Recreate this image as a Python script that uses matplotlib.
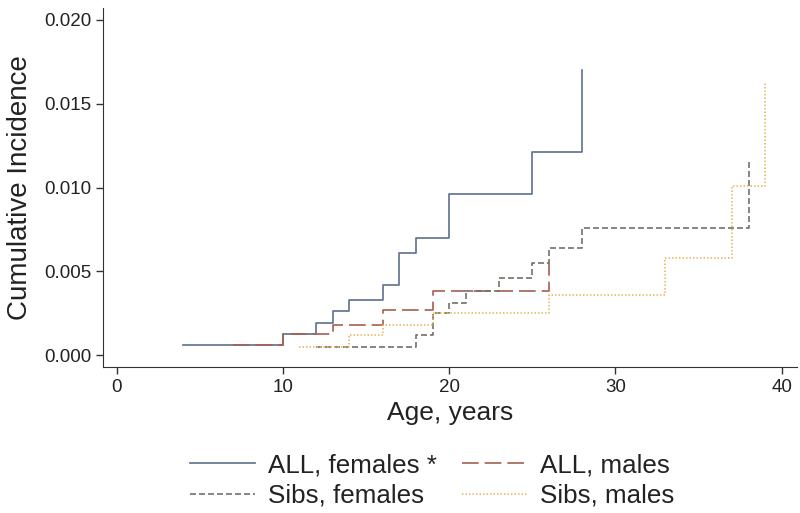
import matplotlib.pyplot as plt

plt.rcParams['font.family'] = ['Liberation Sans', 'DejaVu Sans']

# Kaplan-Meier style cumulative incidence steps (age in years)
all_f_age = [4, 10, 12, 13, 14, 16, 17, 18, 20, 25, 28]
all_f_ci = [0.0006, 0.00125, 0.0019, 0.0026, 0.0033, 0.0042, 0.0061, 0.0070, 0.0096, 0.0121, 0.0170]

all_m_age = [7, 10, 13, 16, 19, 26]
all_m_ci = [0.0006, 0.00125, 0.0018, 0.0027, 0.0038, 0.0055]

sib_f_age = [12, 18, 19, 20, 21, 23, 25, 26, 28, 38]
sib_f_ci = [0.0005, 0.0012, 0.0025, 0.0031, 0.0038, 0.0046, 0.0055, 0.0064, 0.0076, 0.0116]

sib_m_age = [11, 14, 16, 19, 26, 33, 37, 39]
sib_m_ci = [0.0005, 0.0012, 0.0018, 0.0025, 0.0036, 0.0058, 0.0101, 0.0163]

labels = ['ALL, females *', 'ALL, males', 'Sibs, females', 'Sibs, males']
x_ticks = [0, 10, 20, 30, 40]
y_ticks = [0.0, 0.005, 0.010, 0.015, 0.020]

fig = plt.figure(figsize=(8, 5.13), dpi=100)
ax = fig.add_axes([0.129, 0.285, 0.867, 0.699])

lw = 1.2
h1, = ax.step(all_f_age, all_f_ci, where='post', color='#5b6f8f', lw=lw)
h2, = ax.step(all_m_age, all_m_ci, where='post', color='#a55f50', lw=lw, dashes=(10, 3.6))
h3, = ax.step(sib_f_age, sib_f_ci, where='post', color='#727268', lw=lw, dashes=(3.6, 1.8))
h4, = ax.step(sib_m_age, sib_m_ci, where='post', color='#e8b860', lw=lw, dashes=(0.9, 1.2))

ax.set_xlim(-0.8, 40.9)
ax.set_ylim(-0.0007, 0.0207)
ax.set_xticks(x_ticks)
ax.set_yticks(y_ticks)
ax.set_yticklabels([f'{v:.3f}' for v in y_ticks])
ax.tick_params(labelsize=13.5, length=5, width=1, color='#333333', labelcolor='#222222')
for s in ['top', 'right']:
    ax.spines[s].set_visible(False)
for s in ['left', 'bottom']:
    ax.spines[s].set_color('#333333')

ax.set_xlabel('Age, years', fontsize=19, labelpad=4, color='#222222')
ax.set_ylabel('Cumulative Incidence', fontsize=20, labelpad=8, color='#222222')

# legend fills column-wise, so order entries to read row by row
leg = fig.legend([h1, h3, h2, h4], [labels[0], labels[2], labels[1], labels[3]],
                 loc='upper center', bbox_to_anchor=(0.54, 0.152), ncol=2, frameon=False,
                 fontsize=18.7, handlelength=2.5, handletextpad=0.5, columnspacing=0.95,
                 labelspacing=0.25, borderpad=0.2)
for t in leg.get_texts():
    t.set_color('#222222')

fig.savefig('out.png', dpi=100)
